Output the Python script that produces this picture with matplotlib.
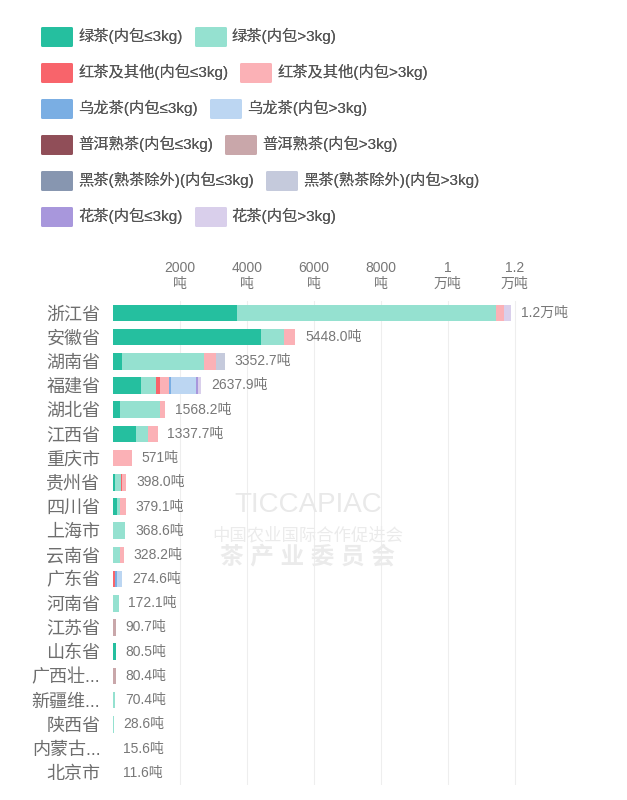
#!/usr/bin/env python3
"""Stacked bars: tea export volume by province, split by tea type and pack size."""

import matplotlib

matplotlib.use("Agg")
import matplotlib.pyplot as plt

plt.rcParams["font.family"] = ["Liberation Sans", "Noto Sans CJK SC", "DejaVu Sans"]

provinces = ["浙江省", "安徽省", "湖南省", "福建省", "湖北省", "江西省", "重庆市",
             "贵州省", "四川省", "上海市", "云南省", "广东省", "河南省", "江苏省",
             "山东省", "广西壮...", "新疆维...", "陕西省", "内蒙古...", "北京市"]

series_names = ["绿茶(内包≤3kg)", "绿茶(内包>3kg)",
                "红茶及其他(内包≤3kg)", "红茶及其他(内包>3kg)",
                "乌龙茶(内包≤3kg)", "乌龙茶(内包>3kg)",
                "普洱熟茶(内包≤3kg)", "普洱熟茶(内包>3kg)",
                "黑茶(熟茶除外)(内包≤3kg)", "黑茶(熟茶除外)(内包>3kg)",
                "花茶(内包≤3kg)", "花茶(内包>3kg)"]

# tonnes per province, same order as provinces
green_small = [3700, 4410, 270, 830, 210, 700, 0, 70, 120, 0, 0, 0, 0, 0, 80.5, 0, 0, 0, 0, 0]
green_big = [7730, 700, 2450, 450, 1198.2, 357.7, 0, 170, 90, 368.6, 200, 0, 172.1, 0, 0, 0, 70.4, 28.6, 0, 0]
black_small = [0, 0, 0, 120, 0, 0, 0, 30, 0, 0, 0, 70, 0, 0, 0, 0, 0, 0, 0, 0]
black_big = [240, 338, 352.7, 280, 160, 280, 571, 128, 169.1, 0, 128.2, 0, 0, 0, 0, 0, 0, 0, 15.6, 0]
oolong_small = [0, 0, 0, 50, 0, 0, 0, 0, 0, 0, 0, 40, 0, 0, 0, 0, 0, 0, 0, 0]
oolong_big = [0, 0, 0, 757.9, 0, 0, 0, 0, 0, 0, 0, 164.6, 0, 0, 0, 0, 0, 0, 0, 0]
puer_small = [0] * 20
puer_big = [0, 0, 0, 0, 0, 0, 0, 0, 0, 0, 0, 0, 0, 90.7, 0, 80.4, 0, 0, 0, 0]
dark_small = [0] * 20
dark_big = [0, 0, 280, 0, 0, 0, 0, 0, 0, 0, 0, 0, 0, 0, 0, 0, 0, 0, 0, 0]
flower_small = [0, 0, 0, 60, 0, 0, 0, 0, 0, 0, 0, 0, 0, 0, 0, 0, 0, 0, 0, 0]
flower_big = [230, 0, 0, 90, 0, 0, 0, 0, 0, 0, 0, 0, 0, 0, 0, 0, 0, 0, 0, 11.6]

value_labels = ["1.2万吨", "5448.0吨", "3352.7吨", "2637.9吨", "1568.2吨", "1337.7吨",
                "571吨", "398.0吨", "379.1吨", "368.6吨", "328.2吨", "274.6吨",
                "172.1吨", "90.7吨", "80.5吨", "80.4吨", "70.4吨", "28.6吨",
                "15.6吨", "11.6吨"]

tick_values = [2000, 4000, 6000, 8000, 10000, 12000]
tick_labels = ["2000\n吨", "4000\n吨", "6000\n吨", "8000\n吨", "1\n万吨", "1.2\n万吨"]

colors = ["#25bf9f", "#95e1d0", "#f8646b", "#fbb1b6", "#7aaee3", "#bcd6f2",
          "#904e58", "#c9a7aa", "#8796b0", "#c5cadc", "#a897dc", "#d9cfeb"]


def main():
    series = [green_small, green_big, black_small, black_big, oolong_small, oolong_big,
              puer_small, puer_big, dark_small, dark_big, flower_small, flower_big]

    fig = plt.figure(figsize=(6.27, 8.0), dpi=100)
    ax = fig.add_axes([0.180, 0.019, 0.721, 0.605])

    y = list(range(len(provinces)))
    left = [0.0] * len(provinces)
    bars = []
    for name, vals, col in zip(series_names, series, colors):
        b = ax.barh(y, vals, left=left, height=0.68, color=col, label=name, linewidth=0)
        bars.append(b)
        left = [a + v for a, v in zip(left, vals)]

    for yi, total, text in zip(y, left, value_labels):
        ax.annotate(text, (total, yi), xytext=(7, 0), textcoords="offset points",
                    va="center", ha="left", fontsize=10, color="#777777")

    ax.set_ylim(len(provinces) - 0.5, -0.5)
    ax.set_xlim(0, 13500)
    ax.set_yticks(y)
    ax.set_yticklabels(provinces, fontsize=13, color="#6e6e6e")
    ax.xaxis.tick_top()
    ax.set_xticks(tick_values)
    ax.set_xticklabels(tick_labels, fontsize=10, color="#777777", linespacing=1.2)
    ax.tick_params(axis="both", length=0)
    ax.tick_params(axis="x", pad=7)
    ax.tick_params(axis="y", pad=9)
    for s in ax.spines.values():
        s.set_visible(False)
    ax.grid(axis="x", color="#eeeeee", linewidth=0.8)
    ax.set_axisbelow(True)

    # faint watermark
    fig.text(0.491, 0.369, "TICCAPIAC", ha="center", va="center", fontsize=20,
             color="#e9e9e9", zorder=0)
    fig.text(0.491, 0.331, "中国农业国际合作促进会", ha="center", va="center",
             fontsize=12.5, color="#ebebeb", zorder=0)
    fig.text(0.491, 0.3025, "茶 产 业 委 员 会", ha="center", va="center",
             fontsize=17, color="#ebebeb", zorder=0, fontweight="bold")

    # legend: one row per tea type
    row_tops = [0.9765, 0.9315, 0.8865, 0.8415, 0.7965, 0.7515]
    for i, top in enumerate(row_tops):
        leg = fig.legend(handles=bars[2 * i:2 * i + 2], loc="upper left",
                         bbox_to_anchor=(0.053, top), ncol=2, frameon=False,
                         fontsize=11, handlelength=1.9, handleheight=1.3,
                         handletextpad=0.45, columnspacing=0.85, borderpad=0.1,
                         labelcolor="#555555")
        for h in leg.legend_handles:
            h.set_edgecolor(h.get_facecolor())
            h.set_linewidth(2)
            h.set_joinstyle("round")
        fig.add_artist(leg)

    fig.savefig("out.png", dpi=100, facecolor="white")


if __name__ == "__main__":
    main()
